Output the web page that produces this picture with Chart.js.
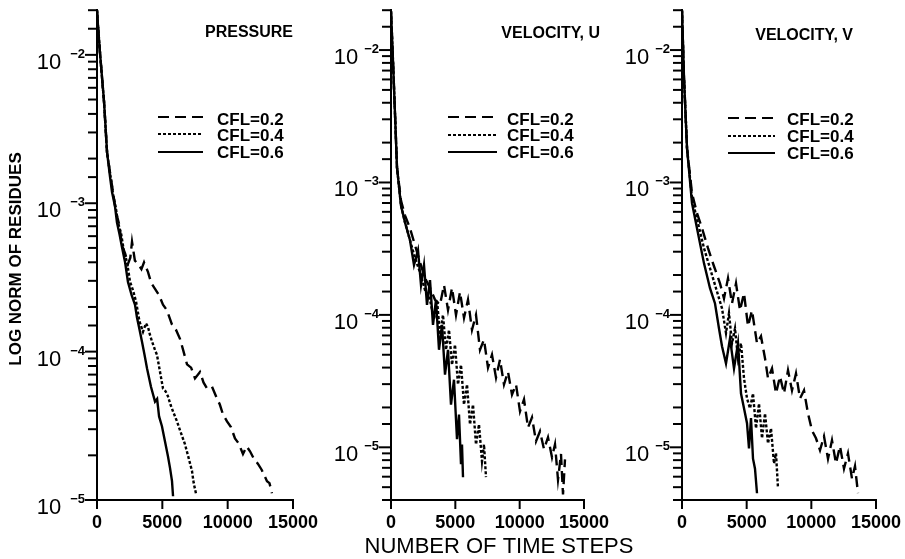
<!DOCTYPE html>
<html>
<head>
<meta charset="utf-8">
<script src="https://cdn.jsdelivr.net/npm/chart.js@4.4.0/dist/chart.umd.min.js"></script>
<style>
  body { margin: 0; background: #fff; }
  #wrap { position: relative; width: 905px; height: 559px; background: #fff; }
  canvas { position: absolute; top: 0; }
</style>
</head>
<body>
<div id="wrap">
  <canvas id="pressureChart" width="330" height="559" style="left:0px"></canvas>
  <canvas id="velocityUChart" width="340" height="559" style="left:310px"></canvas>
  <canvas id="velocityVChart" width="305" height="559" style="left:600px"></canvas>
</div>
<script>
// Labels and ticks
const cflLabels = ['CFL=0.2', 'CFL=0.4', 'CFL=0.6'];
const panelTitles = ['PRESSURE', 'VELOCITY, U', 'VELOCITY, V'];
const xTicks = [0, 5000, 10000, 15000];
const yDecades = [1e-2, 1e-3, 1e-4, 1e-5];

// Pressure residues
const pSteps02 = [0, 80, 230, 540, 770, 1000, 1220, 1450, 1700, 1910, 2150, 2370, 2550, 2680, 2900, 3140, 3400, 3600, 3900, 4150, 4440, 4750, 5050, 5350, 5740, 6050, 6350, 6600, 6890, 7200, 7500, 7880, 8150, 8420, 8800, 9180, 9400, 9640, 9950, 10250, 10560, 10850, 11170, 11450, 11710, 12000, 12320, 12600, 13010, 13200, 13390];
const pRes02 = [0.02, 0.0155, 0.0103, 0.0048, 0.0022, 0.0016, 0.0012, 0.00087, 0.00072, 0.00052, 0.00046, 0.00039, 0.00043, 0.00055, 0.00041, 0.00039, 0.00036, 0.0004, 0.000345, 0.00029, 0.000265, 0.00024, 0.000207, 0.00019, 0.000152, 0.00014, 0.000122, 0.000102, 0.000082, 0.000078, 0.000066, 0.000073, 0.000062, 0.0000565, 0.000058, 0.0000484, 0.000044, 0.0000378, 0.0000339, 0.000031, 0.000026, 0.000024, 0.0000204, 0.000023, 0.0000213, 0.000019, 0.0000175, 0.000016, 0.0000134, 0.000013, 0.0000111];
const pSteps04 = [0, 80, 230, 540, 770, 1000, 1230, 1450, 1610, 1850, 2070, 2300, 2530, 2750, 2990, 3250, 3520, 3750, 3900, 4050, 4210, 4400, 4590, 4800, 5050, 5250, 5430, 5620, 5820, 6120, 6430, 6730, 7040, 7270, 7400, 7580];
const pRes04 = [0.02, 0.0155, 0.0103, 0.0048, 0.0022, 0.0016, 0.00115, 0.00092, 0.00074, 0.00062, 0.00047, 0.0004, 0.000295, 0.00026, 0.000217, 0.00016, 0.000136, 0.000155, 0.000147, 0.00013, 0.000117, 0.000105, 0.000095, 0.000075, 0.0000565, 0.000054, 0.00005, 0.000044, 0.0000395, 0.0000339, 0.0000282, 0.0000238, 0.0000188, 0.0000157, 0.000013, 0.000011];
const pSteps06 = [0, 80, 230, 540, 770, 1000, 1150, 1380, 1530, 1720, 1910, 2150, 2370, 2650, 2910, 3060, 3210, 3440, 3640, 3830, 4130, 4440, 4600, 4750, 4970, 5200, 5430, 5590, 5740, 5820];
const pRes06 = [0.02, 0.0155, 0.0103, 0.0048, 0.0022, 0.0015, 0.00119, 0.00095, 0.00074, 0.00062, 0.000507, 0.0004, 0.000295, 0.00024, 0.000207, 0.00017, 0.000147, 0.000117, 0.000095, 0.000077, 0.000058, 0.000046, 0.000048, 0.0000366, 0.0000314, 0.0000249, 0.0000197, 0.0000164, 0.0000134, 0.0000106];

// Velocity U residues
const uSteps02 = [0, 155, 311, 466, 777, 1088, 1477, 1865, 2254, 2643, 3031, 3420, 3808, 4119, 4430, 4741, 5052, 5363, 5674, 5984, 6295, 6606, 6917, 7228, 7539, 7850, 8161, 8471, 8782, 9093, 9404, 9715, 10026, 10337, 10648, 10958, 11269, 11580, 11891, 12202, 12513, 12746, 12979, 13212, 13368, 13523];
const uRes02 = [0.0196, 0.00826, 0.0033, 0.0013, 7.3e-4, 5.65e-4, 4.5e-4, 3.36e-4, 2.5e-4, 1.9e-4, 1.6e-4, 1.3e-4, 1.19e-4, 1.68e-4, 1.09e-4, 1.6e-4, 1.0e-4, 1.49e-4, 9.5e-5, 1.3e-4, 7.7e-5, 1.0e-4, 5.45e-5, 6.5e-5, 4.0e-5, 5.0e-5, 3.36e-5, 4.6e-5, 2.98e-5, 3.72e-5, 2.5e-5, 2.98e-5, 1.87e-5, 2.3e-5, 1.41e-5, 1.68e-5, 1.11e-5, 1.32e-5, 9.7e-6, 1.19e-5, 8.4e-6, 1.05e-5, 5.7e-6, 8.9e-6, 4.4e-6, 8.1e-6];
const uSteps04 = [0, 155, 311, 466, 777, 1088, 1477, 1865, 2254, 2643, 3031, 3342, 3575, 3808, 4041, 4274, 4508, 4741, 4974, 5207, 5440, 5674, 5907, 6140, 6373, 6606, 6839, 7072, 7228, 7384];
const uRes04 = [0.0196, 0.00826, 0.0033, 0.0013, 6.7e-4, 5.0e-4, 3.66e-4, 2.69e-4, 2.1e-4, 1.54e-4, 1.3e-4, 9.2e-5, 1.3e-4, 7.1e-5, 1.0e-4, 5.45e-5, 7.7e-5, 4.2e-5, 5.95e-5, 2.98e-5, 4.2e-5, 2.1e-5, 2.98e-5, 1.49e-5, 2.1e-5, 1.05e-5, 1.49e-5, 7.85e-6, 1.05e-5, 5.95e-6];
const uSteps06 = [0, 155, 311, 466, 777, 1088, 1477, 1788, 2098, 2332, 2565, 2798, 3031, 3264, 3497, 3731, 3964, 4197, 4430, 4663, 4896, 5130, 5285, 5440, 5518, 5596];
const uRes06 = [0.0196, 0.00826, 0.0033, 0.0013, 6.7e-4, 5.0e-4, 3.66e-4, 2.38e-4, 3.08e-4, 1.68e-4, 2.38e-4, 1.19e-4, 1.83e-4, 8.4e-5, 1.3e-4, 5.45e-5, 8.4e-5, 3.54e-5, 5.45e-5, 2.1e-5, 3.24e-5, 1.15e-5, 1.77e-5, 7.45e-6, 1.05e-5, 5.95e-6];

// Velocity V residues
const vSteps02 = [0, 155, 387, 773, 1160, 1546, 2010, 2474, 2938, 3247, 3557, 3866, 4175, 4485, 4794, 5103, 5412, 5799, 6108, 6418, 6650, 6959, 7268, 7577, 7887, 8196, 8505, 8814, 9124, 9433, 9742, 10051, 10360, 10670, 10979, 11288, 11597, 11907, 12216, 12525, 12834, 13144, 13376, 13608];
const vRes02 = [0.02, 0.00614, 0.00182, 8.3e-4, 5.86e-4, 4.52e-4, 3.19e-4, 2.33e-4, 1.73e-4, 1.33e-4, 1.89e-4, 1.22e-4, 1.73e-4, 1.08e-4, 1.46e-4, 8.2e-5, 1.08e-4, 6.1e-5, 6.9e-5, 4.7e-5, 3.32e-5, 3.94e-5, 2.55e-5, 3.43e-5, 2.55e-5, 3.81e-5, 2.69e-5, 3.61e-5, 2.34e-5, 2.69e-5, 1.8e-5, 1.34e-5, 1.17e-5, 9.5e-6, 1.21e-5, 8.2e-6, 1.13e-5, 7.55e-6, 1.02e-5, 6.9e-6, 9.0e-6, 5.8e-6, 7.2e-6, 4.5e-6];
const vSteps04 = [0, 155, 387, 773, 1237, 1701, 2165, 2629, 3093, 3402, 3634, 3866, 4098, 4330, 4562, 4794, 5026, 5258, 5490, 5722, 5954, 6186, 6418, 6650, 6881, 7113, 7268, 7423];
const vRes04 = [0.02, 0.00614, 0.00182, 7.6e-4, 4.92e-4, 3.19e-4, 2.25e-4, 1.59e-4, 1.12e-4, 7.3e-5, 1.03e-4, 6.1e-5, 7.9e-5, 4.7e-5, 6.1e-5, 3.32e-5, 2.34e-5, 1.97e-5, 2.55e-5, 1.39e-5, 2.14e-5, 1.17e-5, 1.8e-5, 1.07e-5, 1.39e-5, 7.55e-6, 9.0e-6, 4.9e-6];
const vSteps06 = [0, 155, 387, 773, 1237, 1701, 2165, 2552, 2861, 3093, 3402, 3712, 4021, 4330, 4562, 4794, 5026, 5180, 5335, 5490, 5644, 5799];
const vRes06 = [0.02, 0.00614, 0.00182, 6.98e-4, 4.14e-4, 2.45e-4, 1.59e-4, 1.22e-4, 7.9e-5, 5.8e-5, 4.3e-5, 6.65e-5, 3.94e-5, 6.1e-5, 2.55e-5, 1.97e-5, 1.52e-5, 9.8e-6, 1.66e-5, 8.2e-6, 6.9e-6, 4.5e-6];

const lineDashes = [[11, 6], [3, 2], []];
const TEXT_FONT = '"Liberation Sans", Arial, sans-serif';

function toPoints(steps, values) {
  return steps.map((s, i) => ({ x: s, y: values[i] }));
}

function isDecade(v) {
  const e = Math.log10(v);
  return Math.abs(e - Math.round(e)) < 1e-6;
}

// Draws tick marks, decade labels, panel title, legend and axis titles
const panelDeco = {
  id: 'panelDeco',
  afterDraw(chart, args, opts) {
    const ctx = chart.ctx;
    const area = chart.chartArea;
    const xScale = chart.scales.x;
    const yScale = chart.scales.y;
    ctx.save();
    ctx.fillStyle = '#000';
    ctx.strokeStyle = '#000';
    ctx.setLineDash([]);

    // Tick marks from the scales' own ticks
    ctx.lineWidth = 2;
    yScale.ticks.forEach(t => {
      const py = yScale.getPixelForValue(t.value);
      const len = isDecade(t.value) ? 12 : 9;
      ctx.beginPath();
      ctx.moveTo(area.left - len, py);
      ctx.lineTo(area.left, py);
      ctx.stroke();
    });
    xScale.ticks.forEach(t => {
      const px = xScale.getPixelForValue(t.value);
      ctx.beginPath();
      ctx.moveTo(px, area.bottom);
      ctx.lineTo(px, area.bottom + 9);
      ctx.stroke();
    });

    // 10^-n labels on the y axis
    yDecades.forEach(d => {
      if (d < yScale.min * 0.999 || d > yScale.max * 1.001) return;
      const py = yScale.getPixelForValue(d);
      const expText = '\u2212' + Math.abs(Math.round(Math.log10(d)));
      ctx.textAlign = 'right';
      ctx.textBaseline = 'alphabetic';
      ctx.font = 'bold 13px ' + TEXT_FONT;
      ctx.fillText(expText, area.left - 12, py + 3);
      const w = ctx.measureText(expText).width;
      ctx.font = '22px ' + TEXT_FONT;
      ctx.fillText('10', area.left - 12 - w - opts.expGap, py + 14);
    });

    // Panel title
    ctx.textAlign = 'right';
    ctx.font = 'bold 16px ' + TEXT_FONT;
    ctx.fillText(opts.title, opts.titleX, opts.titleY);

    // Legend
    chart.data.datasets.forEach((ds, i) => {
      const y = opts.legendRows[i];
      ctx.beginPath();
      ctx.setLineDash(ds.borderDash || []);
      ctx.lineWidth = 2;
      ctx.moveTo(opts.legendX[0], y);
      ctx.lineTo(opts.legendX[1], y);
      ctx.stroke();
      ctx.setLineDash([]);
      ctx.textAlign = 'left';
      ctx.font = 'bold 17px ' + TEXT_FONT;
      ctx.fillText(ds.label, opts.legendTextX, opts.legendText[i]);
    });

    if (opts.yTitle) {
      ctx.save();
      ctx.translate(opts.yTitle.x, opts.yTitle.y);
      ctx.rotate(-Math.PI / 2);
      ctx.textAlign = 'center';
      ctx.textBaseline = 'middle';
      ctx.font = 'bold 17px ' + TEXT_FONT;
      ctx.fillText(opts.yTitle.text, 0, 0);
      ctx.restore();
    }
    if (opts.xTitle) {
      ctx.textAlign = 'center';
      ctx.textBaseline = 'alphabetic';
      ctx.font = '22px ' + TEXT_FONT;
      ctx.fillText(opts.xTitle.text, opts.xTitle.x, opts.xTitle.y);
    }
    ctx.restore();
  }
};

function createResidualChart(canvasId, series, cfg) {
  const ctx = document.getElementById(canvasId).getContext('2d');
  const datasets = series.map((s, i) => ({
    label: cflLabels[i],
    data: toPoints(s[0], s[1]),
    borderColor: '#000',
    borderWidth: 2.4,
    borderDash: lineDashes[i],
    pointRadius: 0,
    tension: 0,
    fill: false
  }));

  return new Chart(ctx, {
    type: 'line',
    data: { datasets: datasets },
    plugins: [panelDeco],
    options: {
      responsive: false,
      animation: false,
      devicePixelRatio: 1,
      layout: { padding: { left: 0, right: cfg.padRight, top: cfg.top, bottom: 0 } },
      plugins: {
        legend: { display: false },
        tooltip: { enabled: false },
        panelDeco: cfg.deco
      },
      scales: {
        x: {
          type: 'linear',
          min: 0,
          max: 15000,
          afterBuildTicks: scale => { scale.ticks = xTicks.map(v => ({ value: v })); },
          ticks: {
            color: '#000',
            font: { family: TEXT_FONT, size: 18, weight: 'bold' },
            padding: 3,
            maxRotation: 0,
            autoSkip: false,
            callback: v => String(v)
          },
          grid: { display: false, drawTicks: true, tickLength: 9 },
          border: { display: true, color: '#000', width: 2 },
          afterFit: scale => { scale.height = 559 - 500; }
        },
        y: {
          type: 'logarithmic',
          min: cfg.yMin,
          max: 0.02,
          ticks: {
            autoSkip: false,
            callback: () => ''
          },
          grid: { display: false },
          border: { display: true, color: '#000', width: 2 },
          afterFit: scale => { scale.width = cfg.plotLeft; }
        }
      }
    }
  });
}

createResidualChart('pressureChart',
  [[pSteps02, pRes02], [pSteps04, pRes04], [pSteps06, pRes06]],
  {
    padRight: 37, top: 10, plotLeft: 97, yMin: 1e-5,
    deco: {
      title: panelTitles[0], titleX: 293, titleY: 37, expGap: 9,
      legendX: [158, 203], legendRows: [117, 134, 152], legendTextX: 217, legendText: [125, 141, 158],
      yTitle: { text: 'LOG NORM OF RESIDUES', x: 16, y: 259 }
    }
  });

createResidualChart('velocityUChart',
  [[uSteps02, uRes02], [uSteps04, uRes04], [uSteps06, uRes06]],
  {
    padRight: 66, top: 9, plotLeft: 81, yMin: 4e-6,
    deco: {
      title: panelTitles[1], titleX: 290, titleY: 38, expGap: 6,
      legendX: [138, 187], legendRows: [117, 135, 152], legendTextX: 197, legendText: [125, 141, 158],
      xTitle: { text: 'NUMBER OF TIME STEPS', x: 189, y: 553 }
    }
  });

createResidualChart('velocityVChart',
  [[vSteps02, vRes02], [vSteps04, vRes04], [vSteps06, vRes06]],
  {
    padRight: 29, top: 10, plotLeft: 82, yMin: 4e-6,
    deco: {
      title: panelTitles[2], titleX: 253, titleY: 40, expGap: 6,
      legendX: [128, 175], legendRows: [118, 136, 153], legendTextX: 187, legendText: [125, 142, 159]
    }
  });
</script>
</body>
</html>
